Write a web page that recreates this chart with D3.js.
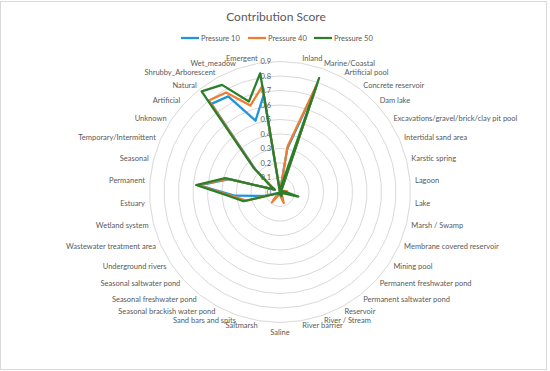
<!DOCTYPE html>
<html>
<head>
<meta charset="utf-8">
<script src="https://cdn.jsdelivr.net/npm/d3@7"></script>
<style>
  html, body { margin: 0; padding: 0; background: #fff; }
  svg { display: block; font-family: Lato, "Open Sans", sans-serif; }
</style>
</head>
<body>
<svg id="chart" width="550" height="371"></svg>
<script>
// ---- data ----
const categories = ["", "Inland", "Marine/Coastal", "Artificial pool", "Concrete reservoir", "Dam lake",
  "Excavations/gravel/brick/clay pit pool", "Intertidal sand area", "Karstic spring", "Lagoon", "Lake",
  "Marsh / Swamp", "Membrane covered reservoir", "Mining pool", "Permanent freshwater pond",
  "Permanent saltwater pond", "Reservoir", "River / Stream", "River barrier", "Saline", "Saltmarsh",
  "Sand bars and spits", "Seasonal brackish water pond", "Seasonal freshwater pond",
  "Seasonal saltwater pond", "Underground rivers", "Wastewater treatment area", "Wetland system",
  "Estuary", "Permanent", "Seasonal", "Temporary/Intermittent", "Unknown", "Artificial", "Natural",
  "Shrubby_Arborescent", "Wet_meadow", "Emergent"];

const seriesNames = ["Pressure 10", "Pressure 40", "Pressure 50"];

const pressure10 = [0, 0.30, 0.77, 0.03, 0.01, 0.01, 0.01, 0.01, 0.02, 0.04, 0.03, 0.02, 0.01, 0.01, 0.01,
  0.01, 0.02, 0.06, 0.02, 0.01, 0.01, 0.01, 0.02, 0.07, 0.01, 0.01, 0.02, 0.11, 0.31, 0.56, 0.36, 0.04,
  0.07, 0.23, 0.77, 0.75, 0.52, 0.68];
const pressure40 = [0, 0.32, 0.79, 0.03, 0.02, 0.02, 0.01, 0.02, 0.03, 0.05, 0.04, 0.03, 0.02, 0.02, 0.02,
  0.02, 0.03, 0.08, 0.03, 0.02, 0.02, 0.02, 0.03, 0.09, 0.02, 0.02, 0.03, 0.24, 0.33, 0.57, 0.37, 0.04,
  0.07, 0.24, 0.80, 0.78, 0.63, 0.74];
const pressure50 = [0, 0.03, 0.83, 0.03, 0.01, 0.01, 0.01, 0.01, 0.02, 0.03, 0.05, 0.13, 0.02, 0.01, 0.02,
  0.01, 0.02, 0.03, 0.02, 0.01, 0.01, 0.01, 0.01, 0.02, 0.01, 0.01, 0.03, 0.26, 0.35, 0.58, 0.39, 0.04,
  0.08, 0.25, 0.88, 0.84, 0.66, 0.83];

const tickValues = [0, 0.1, 0.2, 0.3, 0.4, 0.5, 0.6, 0.7, 0.8, 0.9];
const tickLabels = ["0", "0.1", "0.2", "0.3", "0.4", "0.5", "0.6", "0.7", "0.8", "0.9"];
const title = "Contribution Score";
const colors = ["#1e96dc", "#ed7d31", "#2b7f2b"];

// ---- layout ----
const W = 550, H = 371;
const cx = 280, cy = 192;
const R = 130.5;
const labelGap = 5;
const textColor = "#595959";

const svg = d3.select("#chart");

svg.append("rect").attr("x", 0.5).attr("y", 1.5).attr("width", 546).attr("height", 368)
  .attr("fill", "#fff").attr("stroke", "#d9d9d9").attr("stroke-width", 1);

const n = categories.length;
const angle = d3.scaleLinear().domain([0, n]).range([0, 2 * Math.PI]);
const r = d3.scaleLinear().domain([0, 0.9]).range([0, R]);

const g = svg.append("g").attr("transform", `translate(${cx},${cy})`);

// gridlines (polygons)
const idx = d3.range(n);
const gridLine = d3.lineRadial().angle(i => angle(i)).curve(d3.curveLinearClosed);
g.append("g").selectAll("path").data(tickValues.filter(t => t > 0)).join("path")
  .attr("d", t => gridLine.radius(() => r(t))(idx))
  .attr("fill", "none").attr("stroke", "#d9d9d9").attr("stroke-width", 1);

// value labels
g.append("g").selectAll("text").data(tickValues).join("text")
  .attr("x", -9).attr("y", t => -r(t)).attr("dy", "0.35em")
  .attr("text-anchor", "end").attr("font-size", 7.5).attr("fill", textColor)
  .text((t, i) => tickLabels[i]);

// category labels
g.append("g").selectAll("text").data(categories).join("text")
  .each(function(c, i) {
    const a = angle(i), s = Math.sin(a), co = Math.cos(a);
    const rr = R + labelGap;
    const t = d3.select(this)
      .attr("x", rr * s).attr("y", -rr * co)
      .attr("font-size", 7.5).attr("fill", textColor)
      .attr("text-anchor", s > 0.01 ? "start" : (s < -0.01 ? "end" : "middle"))
      .attr("dy", Math.abs(s) <= 0.01 && co < 0 ? "0.95em" : "0.35em")
      .text(c);
  });

// series
const series = [pressure10, pressure40, pressure50];
const line = d3.lineRadial().angle((d, i) => angle(i)).radius(d => r(d)).curve(d3.curveLinearClosed);
g.append("g").selectAll("path").data(series).join("path")
  .attr("d", d => line(d))
  .attr("fill", "none").attr("stroke", (d, i) => colors[i])
  .attr("stroke-width", 2.25).attr("stroke-linejoin", "round");

// title
svg.append("text").attr("x", 276).attr("y", 17).attr("dy", "0.35em")
  .attr("text-anchor", "middle").attr("font-size", 12).attr("fill", textColor).text(title);

// legend
const legendX = [181, 248, 314];
const lg = svg.append("g").selectAll("g").data(seriesNames).join("g")
  .attr("transform", (d, i) => `translate(${legendX[i]},38)`);
lg.append("line").attr("x1", 0).attr("x2", 18).attr("y1", 0).attr("y2", 0)
  .attr("stroke", (d, i) => colors[i]).attr("stroke-width", 2.25);
lg.append("text").attr("x", 20).attr("dy", "0.35em").attr("font-size", 7.5)
  .attr("fill", textColor).text(d => d);
</script>
</body>
</html>
